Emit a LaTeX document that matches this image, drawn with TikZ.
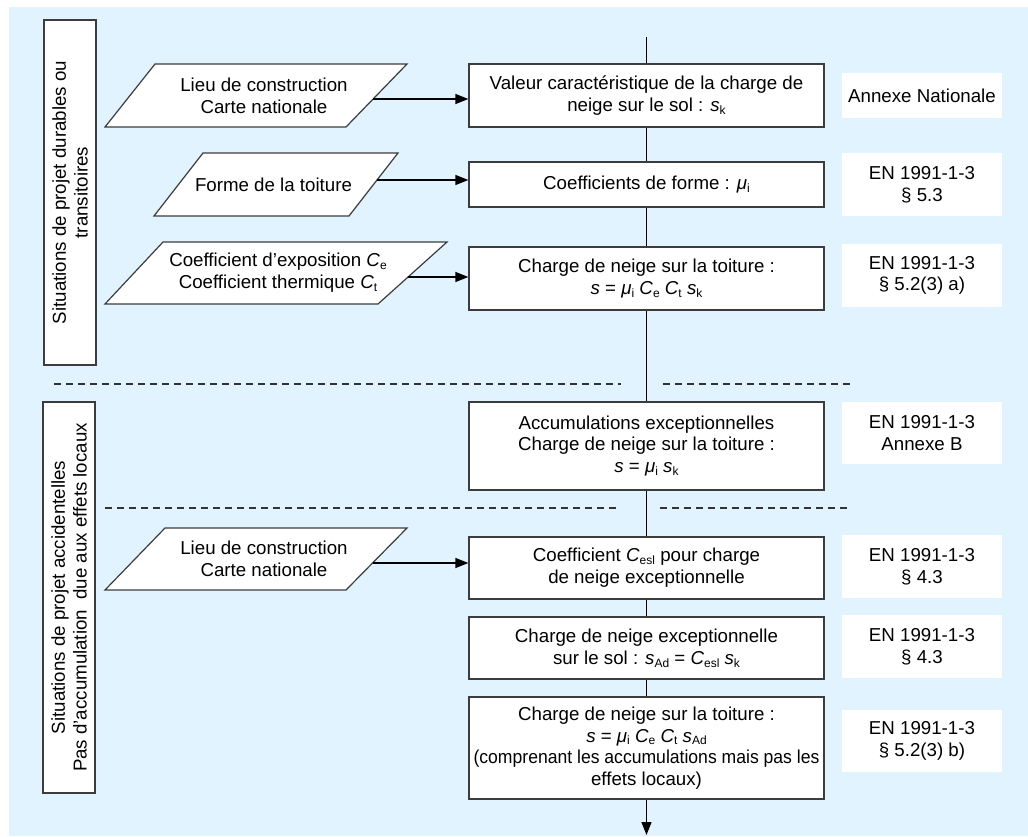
\documentclass[tikz,border=0pt]{standalone}
\usepackage{fontspec}
\usepackage{graphicx}
\setmainfont{Liberation Sans}
\usetikzlibrary{arrows.meta}
\definecolor{bgblue}{RGB}{225,243,254}
\definecolor{edgegray}{RGB}{60,60,60}
\newcommand\sbs[1]{\raisebox{-0.3ex}{\fontsize{12}{12}\selectfont #1}}
\newcommand\vi[1]{\textit{#1}}
\begin{document}
\begin{tikzpicture}[x=1pt,y=-1pt,
  every node/.style={font=\fontsize{18.7}{21.7}\selectfont},
  mainbox/.style={draw=edgegray, line width=1.2pt, fill=white, minimum width=355pt, inner sep=0pt, align=center},
  refbox/.style={fill=white, minimum width=160pt, inner sep=0pt, align=center},
  sidebox/.style={draw=edgegray, line width=1.2pt, fill=white, rotate=90, inner sep=0pt, align=center, minimum height=52pt},
  para/.style={draw=edgegray, line width=1.2pt, fill=white},
  partext/.style={align=center, inner sep=0pt},
  flow/.style={line width=1.2pt, black},
  arr/.style={flow, -{Triangle[length=13pt,width=10pt]}},
  sep/.style={line width=1.1pt, dash pattern=on 7pt off 5pt, black!80}
]
\useasboundingbox (0,0) rectangle (1028,836);
\fill[bgblue] (9,7) rectangle (1028,836);

% side boxes
\node[sidebox, minimum width=345pt] (s1) at (70,192.5) {Situations de projet durables ou\\ transitoires};
\node[sidebox, minimum width=391pt] (s2) at (69,597.5) {Situations de projet accidentelles\\ Pas d’accumulation\ \ due aux effets locaux};

% separators
\draw[sep] (54,384) -- (621,384);
\draw[sep] (663,384) -- (850,384);
\draw[sep] (105,508) -- (620,508);
\draw[sep] (660,508) -- (847,508);

% main boxes
\node[mainbox, minimum height=63pt] (b1) at (646.5,95.5) {Valeur caractéristique de la charge de\\ neige sur le sol : \vi{s}\sbs{k}};
\node[mainbox, minimum height=45pt] (b2) at (646.5,184.5) {Coefficients de forme : \vi{μ}\sbs{i}};
\node[mainbox, minimum height=63pt] (b3) at (646.5,278.5) {Charge de neige sur la toiture :\\ \vi{s} = \vi{μ}\sbs{i} \vi{C}\sbs{e} \vi{C}\sbs{t} \vi{s}\sbs{k}};
\node[mainbox, minimum height=88pt] (b4) at (646.5,446) {Accumulations exceptionnelles\\ Charge de neige sur la toiture :\\ \vi{s} = \vi{μ}\sbs{i} \vi{s}\sbs{k}};
\node[mainbox, minimum height=62pt] (b5) at (646.5,568) {Coefficient \vi{C}\sbs{esl} pour charge\\ de neige exceptionnelle};
\node[mainbox, minimum height=62pt] (b6) at (646.5,648) {Charge de neige exceptionnelle\\ sur le sol : \vi{s}\sbs{Ad} = \vi{C}\sbs{esl} \vi{s}\sbs{k}};
\node[mainbox, minimum height=102pt] (b7) at (646.5,748) {Charge de neige sur la toiture :\\ \vi{s} = \vi{μ}\sbs{i} \vi{C}\sbs{e} \vi{C}\sbs{t} \vi{s}\sbs{Ad}\\ \scalebox{0.94}[1]{(comprenant les accumulations mais pas les}\\ effets locaux)};

% reference boxes
\node[refbox, minimum height=45pt] (r1) at (922,95.5) {Annexe Nationale};
\node[refbox, minimum height=63pt] (r2) at (922,184.5) {EN 1991-1-3\\ § 5.3};
\node[refbox, minimum height=63pt] (r3) at (922,275.5) {EN 1991-1-3\\ § 5.2(3) a)};
\node[refbox, minimum height=62pt] (r4) at (922,433) {EN 1991-1-3\\ Annexe B};
\node[refbox, minimum height=63pt] (r5) at (922,566.5) {EN 1991-1-3\\ § 4.3};
\node[refbox, minimum height=63pt] (r6) at (922,646.5) {EN 1991-1-3\\ § 4.3};
\node[refbox, minimum height=62pt] (r7) at (922,741) {EN 1991-1-3\\ § 5.2(3) b)};

% input parallelograms
\draw[para] (155,64) -- (407,64) -- (346,127) -- (105,127) -- cycle;
\node[partext] (p1) at (264,95.5) {Lieu de construction\\ Carte nationale};
\coordinate (p1r) at (373,99);
\draw[para] (203,153) -- (398,153) -- (349,216) -- (154,216) -- cycle;
\node[partext] (p2) at (273.5,184.5) {Forme de la toiture};
\coordinate (p2r) at (377,180);
\draw[para] (163,242) -- (447,242) -- (378,304) -- (105,304) -- cycle;
\node[partext] (p3) at (278,273) {Coefficient d’exposition \vi{C}\sbs{e}\\ Coefficient thermique \vi{C}\sbs{t}};
\coordinate (p3r) at (408,277);
\draw[para] (165,528) -- (407,528) -- (346,590) -- (105,590) -- cycle;
\node[partext] (p4) at (264,559) {Lieu de construction\\ Carte nationale};
\coordinate (p4r) at (373,563);

% input arrows
\draw[arr] (p1r) -- (p1r -| b1.west);
\draw[arr] (p2r) -- (p2r -| b2.west);
\draw[arr] (p3r) -- (p3r -| b3.west);
\draw[arr] (p4r) -- (p4r -| b5.west);

% main flow
\coordinate (top) at (646.5,37);
\coordinate (bot) at (646.5,835);
\draw[flow] (top) -- (b1.north);
\draw[flow] (b1.south) -- (b2.north);
\draw[flow] (b2.south) -- (b3.north);
\draw[flow] (b3.south) -- (b4.north);
\draw[flow] (b4.south) -- (b5.north);
\draw[flow] (b5.south) -- (b6.north);
\draw[flow] (b6.south) -- (b7.north);
\draw[arr] (b7.south) -- (bot);
\end{tikzpicture}
\end{document}
